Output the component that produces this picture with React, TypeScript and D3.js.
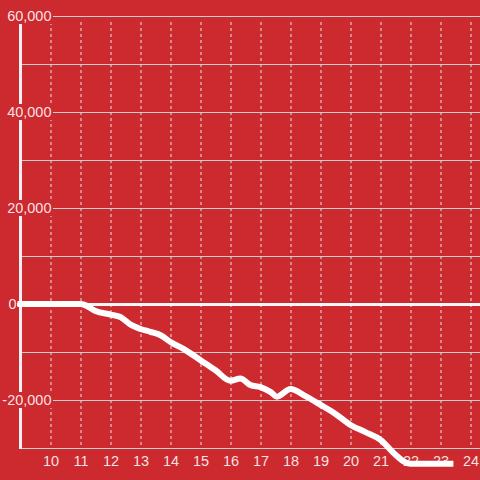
import React from "react";
import * as d3 from "d3";

const times = [9, 10, 11, 11.1, 11.5, 12, 12.33, 12.67, 13, 13.33, 13.67, 14, 14.5, 15, 15.5, 16, 16.33, 16.67, 17, 17.33, 17.55, 18, 18.5, 19, 19.5, 20, 20.5, 21, 21.5, 21.8, 22, 23.33];
const values = [0, 0, 0, -100, -1450, -2200, -2700, -4300, -5200, -5800, -6500, -7900, -9600, -11700, -13800, -16000, -15500, -16900, -17300, -18300, -19300, -17700, -19200, -21000, -22900, -25200, -26700, -28300, -31400, -32900, -33300, -33300];
const xTicks = [10, 11, 12, 13, 14, 15, 16, 17, 18, 19, 20, 21, 22, 23, 24];
const yLabelTicks = [60000, 40000, 20000, 0, -20000];
const yGridTicks = [60000, 50000, 40000, 30000, 20000, 10000, -10000, -20000, -30000];

const W = 480;
const H = 480;
const BG = "#cc2a2f";
const TXT = "rgba(255,255,255,0.88)";

export default function App() {
  const x = d3.scaleLinear().domain([9, 24.3333]).range([20.5, 480.5]);
  const y = d3.scaleLinear().domain([-30000, 60000]).range([448, 16]);
  const fmt = d3.format(",");
  const pts: [number, number][] = times.map((t, i) => [t, values[i]]);
  const line = d3
    .line<[number, number]>()
    .x((d) => x(d[0]))
    .y((d) => y(d[1]))
    .curve(d3.curveMonotoneX);

  return (
    <svg
      width={W}
      height={H}
      style={{ position: "absolute", left: 0, top: 0, display: "block" }}
      fontFamily="'Liberation Sans', Arial, sans-serif"
    >
      <rect x={0} y={0} width={W} height={H} fill={BG} />
      {/* vertical dashed grid */}
      {xTicks.map((t) => (
        <line
          key={"vx" + t}
          x1={Math.round(x(t)) - 0.5 + 0.5}
          x2={Math.round(x(t)) - 0.5 + 0.5}
          y1={22}
          y2={448}
          stroke="#e6e6e6"
          strokeWidth={1}
          strokeDasharray="3,3"
        />
      ))}
      {/* horizontal grid */}
      {yGridTicks.map((v) => (
        <line
          key={"hy" + v}
          x1={21}
          x2={W}
          y1={Math.round(y(v)) + 0.5}
          y2={Math.round(y(v)) + 0.5}
          stroke="#cfcfcf"
          strokeWidth={1}
        />
      ))}
      {/* y axis line */}
      <line x1={20.5} x2={20.5} y1={16} y2={449} stroke="#f2f2f2" strokeWidth={3} />
      {/* zero line */}
      <line x1={17} x2={W} y1={y(0) + 0.5} y2={y(0) + 0.5} stroke="#f7f7f7" strokeWidth={3} />
      {/* y labels with background */}
      {yLabelTicks.map((v) =>
        v === 0 ? (
          <text key={"yl" + v} x={16.5} y={y(v)} dy="0.35em" textAnchor="end" fill={TXT} fontSize={14.5}>
            {fmt(v)}
          </text>
        ) : (
          <g key={"yl" + v}>
            <rect x={0} y={y(v) - 8} width={53} height={16} fill={BG} />
            <text x={51.5} y={y(v)} dy="0.35em" textAnchor="end" fill={TXT} fontSize={14.5}>
              {fmt(v).replace("−", "-")}
            </text>
          </g>
        )
      )}
      {/* x labels */}
      {xTicks.map((t) => (
        <text key={"xl" + t} x={x(t) + 0.5} y={461} dy="0.35em" textAnchor="middle" fill={TXT} fontSize={14.5}>
          {t}
        </text>
      ))}
      {/* data line */}
      <path
        d={line(pts) || ""}
        fill="none"
        stroke="#ffffff"
        strokeWidth={6}
        strokeLinejoin="round"
        strokeLinecap="square"
      />
    </svg>
  );
}
